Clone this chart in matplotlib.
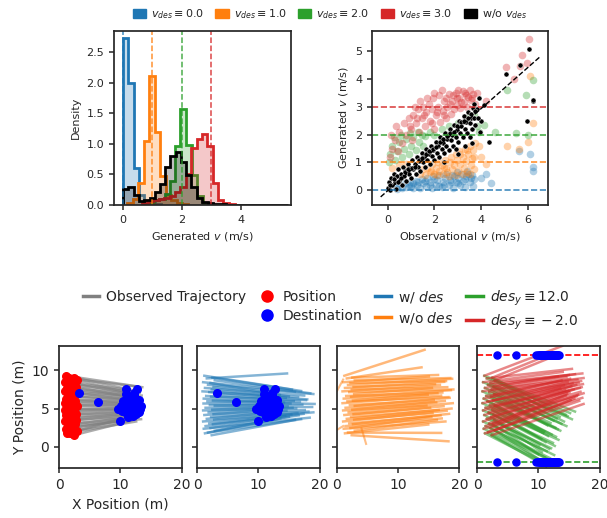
import numpy as np
import matplotlib.pyplot as plt
from matplotlib.lines import Line2D
from matplotlib.patches import Patch

plt.rcParams['font.family'] = ['DejaVu Sans']
plt.rcParams['text.color'] = '.15'
plt.rcParams['axes.labelcolor'] = '.15'
plt.rcParams['axes.edgecolor'] = '.15'
plt.rcParams['xtick.color'] = '.15'
plt.rcParams['ytick.color'] = '.15'

# colours
c_blue, c_orange, c_green, c_red = '#1f77b4', '#ff7f0e', '#2ca02c', '#d62728'

# ---------------- histogram data (density of generated speed)
des_speeds = [0.0, 1.0, 2.0, 3.0]
blue_edges = [0.0, 0.19, 0.37, 0.56, 0.74, 0.93, 1.11, 1.30]
blue_density = [2.73, 2.0, 0.6, 0.17, 0.07, 0.03, 0.01]
orange_edges = [0.16, 0.34, 0.53, 0.71, 0.90, 1.09, 1.28, 1.46, 1.65, 1.84, 2.02, 2.21]
orange_density = [0.04, 0.1, 0.36, 1.04, 2.11, 1.19, 0.48, 0.16, 0.08, 0.04, 0.02]
green_edges = [0.70, 0.88, 1.06, 1.24, 1.42, 1.60, 1.78, 1.96, 2.16, 2.34, 2.52, 2.71, 2.90]
green_density = [0.02, 0.05, 0.08, 0.1, 0.18, 0.4, 0.96, 1.56, 0.98, 0.49, 0.14, 0.04]
red_edges = [0.67, 0.86, 1.04, 1.23, 1.41, 1.60, 1.78, 1.96, 2.15, 2.33, 2.52, 2.70,
             2.87, 3.06, 3.22, 3.41, 3.60, 3.80]
red_density = [0.04, 0.06, 0.08, 0.1, 0.12, 0.15, 0.22, 0.3, 0.5, 0.93, 1.07, 1.16,
               0.96, 0.36, 0.08, 0.03, 0.01]
black_edges = [0.0, 0.19, 0.37, 0.56, 0.74, 0.93, 1.11, 1.28, 1.45, 1.62, 1.80, 1.97,
               2.15, 2.33, 2.52, 2.70, 2.89, 3.07, 3.5, 4.0, 4.5, 5.0, 5.6]
black_density = [0.26, 0.29, 0.16, 0.06, 0.08, 0.12, 0.22, 0.34, 0.62, 0.8, 0.86, 0.7,
                 0.49, 0.29, 0.12, 0.05, 0.03, 0.015, 0.008, 0.005, 0.004, 0.003]

# ---------------- scatter data (observational v, generated v)
blue_obs = [0.35, 0.5, 0.6, 0.75, 0.8, 0.95, 1.0, 1.1, 1.2, 1.25, 1.4, 1.45, 1.5, 1.65, 1.7,
            1.8, 1.9, 1.95, 2.05, 2.1, 2.2, 2.3, 2.35, 2.45, 2.5, 2.6, 2.65, 2.75, 2.8, 2.9,
            2.95, 3.0, 3.1, 3.15, 3.2, 3.3, 3.35, 3.4, 3.5, 3.6, 3.65, 3.7, 4.0, 4.4, 4.2,
            5.6, 6.1, 6.2, 6.2, 0.4, 0.9, 1.3, 1.6, 2.0, 2.4, 2.7, 3.0, 3.3, 3.55, 1.1,
            1.8, 2.2, 2.85, 3.45]
blue_gen = [0.12, 0.2, 0.1, 0.25, 0.12, 0.3, 0.15, 0.08, 0.35, 0.2, 0.1, 0.4, 0.25, 0.15, 0.45,
            0.3, 0.1, 0.5, 0.2, 0.38, 0.55, 0.12, 0.3, 0.45, 0.6, 0.2, 0.38, 0.55, 0.1, 0.3,
            0.65, 0.45, 0.18, 0.6, 0.35, 0.12, 0.5, 0.7, 0.3, 0.55, 0.15, 0.4, 0.45, 0.25, 0.6,
            1.4, 1.3, 0.85, 0.7, 0.05, 0.2, 0.3, 0.35, 0.4, 0.2, 0.3, 0.25, 0.4, 0.45, 0.25,
            0.2, 0.15, 0.5, 0.6]
orange_obs = [0.2, 0.5, 0.8, 1.4, 1.5, 1.6, 1.7, 1.8, 1.9, 2.0, 2.05, 2.15, 2.2, 2.3, 2.35,
              2.45, 2.5, 2.55, 2.65, 2.7, 2.75, 2.85, 2.9, 2.95, 3.0, 3.05, 3.1, 3.2, 3.25,
              3.3, 3.35, 3.4, 3.45, 3.5, 3.55, 3.6, 3.65, 3.7, 3.75, 3.9, 4.0, 4.2, 5.1, 5.6,
              6.0, 6.2, 6.1, 2.6, 2.9, 3.2, 3.5, 3.7, 3.1, 3.4, 2.4, 2.1, 1.85]
orange_gen = [0.8, 0.9, 0.95, 0.6, 0.75, 0.55, 0.8, 0.65, 0.95, 0.6, 0.8, 1.0, 0.7, 0.9, 0.6,
              1.1, 0.8, 0.65, 1.0, 1.2, 0.75, 0.9, 1.3, 1.1, 0.7, 1.4, 0.95, 1.2, 0.8,
              1.5, 1.05, 0.65, 1.3, 1.6, 0.9, 1.15, 1.45, 0.75, 1.7, 1.6, 1.2, 0.95, 1.6, 1.5,
              1.75, 2.4, 4.1, 0.5, 0.55, 0.6, 0.6, 1.2, 1.3, 1.45, 0.85, 0.55, 0.7]
green_obs = [0.05, 0.1, 0.2, 0.25, 0.3, 0.4, 0.5, 0.55, 0.6, 0.7, 0.8, 0.9, 0.95, 1.0, 1.1,
             1.2, 1.3, 1.35, 1.45, 1.5, 1.6, 1.8, 2.0, 2.3, 2.6, 3.0, 3.4, 3.7, 3.8, 3.9,
             4.1, 4.6, 5.1, 5.9, 6.2, 5.5, 6.0]
green_gen = [1.0, 1.3, 1.6, 1.9, 1.1, 1.4, 1.75, 2.0, 1.2, 1.5, 1.85, 1.3, 2.05, 1.6, 1.9,
             1.45, 2.1, 1.75, 2.0, 1.6, 1.95, 2.1, 2.0, 2.2, 2.3, 2.4, 2.6, 2.7, 2.3, 2.1,
             2.35, 2.1, 3.6, 3.4, 3.95, 2.05, 2.0]
red_obs = [0.1, 0.2, 0.15, 0.3, 0.35, 0.45, 0.5, 0.6, 0.7, 0.8, 0.9, 1.0, 1.05,
           1.1, 1.2, 1.3, 1.35, 1.45, 1.5, 1.6, 1.65, 1.75, 1.8, 1.9, 1.95, 2.0, 2.05,
           2.15, 2.2, 2.25, 2.35, 2.4, 2.5, 2.55, 2.6, 2.7, 2.75, 2.85, 2.9, 2.95, 3.05,
           3.1, 3.2, 3.25, 3.35, 3.4, 3.5, 3.55, 3.65, 3.75, 3.8, 4.2, 5.05, 5.4, 5.65,
           5.75, 6.05, 5.95, 1.15, 1.4, 1.7, 2.0, 2.3, 2.5, 2.8, 3.0, 3.3, 3.6, 1.9,
           2.1, 2.4, 2.65, 2.95, 3.15, 3.45, 1.55, 1.25, 0.95]
red_gen = [1.2, 1.5, 2.0, 1.8, 2.3, 1.4, 2.1, 1.7, 2.4, 2.0, 2.6, 2.2, 1.8,
           2.7, 2.4, 2.9, 2.1, 2.6, 3.0, 2.3, 2.8, 3.1, 2.5, 2.9, 3.3, 2.2, 2.7,
           3.0, 3.4, 2.45, 2.85, 3.2, 2.6, 3.0, 3.45, 2.75, 3.2, 2.9, 3.5, 3.05, 3.3,
           2.95, 3.55, 3.15, 3.4, 3.0, 3.6, 3.25, 3.45, 3.1, 3.5, 3.2, 4.4, 4.0, 4.45,
           4.85, 5.4, 4.55, 3.0, 3.2, 3.3, 3.5, 3.6, 3.3, 3.4, 3.6, 3.5, 3.3, 2.4,
           2.8, 2.7, 3.1, 3.3, 3.15, 3.35, 2.7, 2.6, 2.3]
black_obs = [0.0, 0.05, 0.1, 0.15, 0.2, 0.25, 0.3, 0.35, 0.4, 0.45, 0.5, 0.55, 0.6, 0.65,
             0.7, 0.75, 0.8, 0.85, 0.9, 0.95, 1.0, 1.05, 1.1, 1.15, 1.2, 1.25, 1.3, 1.35,
             1.4, 1.45, 1.5, 1.55, 1.6, 1.65, 1.7, 1.75, 1.8, 1.85, 1.9, 1.95, 2.0, 2.05,
             2.1, 2.15, 2.2, 2.25, 2.3, 2.35, 2.4, 2.45, 2.5, 2.55, 2.6, 2.65, 2.7, 2.75,
             2.8, 2.85, 2.9, 2.95, 3.0, 3.05, 3.1, 3.15, 3.2, 3.25, 3.3, 3.35, 3.4, 3.45,
             3.5, 3.55, 3.6, 3.65, 3.7, 3.75, 3.8, 3.9, 4.0, 3.95, 4.35, 5.05, 5.65, 6.05,
             5.95, 6.2, 6.2, 3.0, 2.4, 4.1,
             0.12, 0.28, 0.42, 0.58, 0.72, 0.88, 1.02, 1.18, 1.32, 1.48, 1.62, 1.78, 1.92,
             2.08, 2.22, 2.38, 2.52, 2.68, 2.82, 2.98, 3.12, 3.28, 3.42, 3.58, 3.72, 3.3,
             3.5, 3.6, 2.9, 3.7, 3.85]
black_gen = [0.1, 0.3, 0.0, 0.45, 0.2, 0.6, 0.3, 0.05, 0.5, 0.75, 0.35, 0.6, 0.2, 0.85,
             0.5, 0.7, 0.35, 0.95, 0.6, 0.8, 0.45, 1.1, 0.75, 0.95, 0.6, 1.2, 0.85, 1.05,
             0.7, 1.35, 1.0, 1.2, 0.85, 1.5, 1.1, 1.3, 0.95, 1.6, 1.25, 1.45, 1.1, 1.75,
             1.35, 1.6, 1.2, 1.9, 1.5, 1.7, 1.35, 2.05, 1.6, 1.85, 1.45, 2.2, 1.8, 2.0,
             1.6, 2.35, 1.9, 2.15, 1.75, 2.5, 2.05, 2.3, 1.9, 2.65, 2.2, 2.45, 2.05, 2.8,
             2.4, 2.6, 2.2, 2.95, 2.6, 2.35, 2.9, 3.3, 2.5, 2.1, 1.75, 4.15, 4.5, 5.05,
             2.5, 3.2, 3.25, 1.3, 1.0, 3.05,
             0.2, 0.4, 0.3, 0.45, 0.65, 0.75, 0.8, 0.85, 1.1, 1.15, 1.3, 1.4, 1.5,
             1.55, 1.75, 1.85, 1.95, 2.05, 2.1, 2.3, 2.45, 2.5, 2.6, 2.75, 2.85, 1.6,
             1.9, 1.7, 1.5, 3.1, 2.6]
fit_x = [-0.3, 6.55]
fit_y = [-0.23, 4.81]

# ---------------- trajectory data (m), one entry per agent
start_x = [1.2, 2.5, 1.6, 2.9, 1.0, 2.2, 1.8, 2.7, 1.3, 2.4, 0.9, 2.0, 2.8, 1.5, 2.3, 1.1, 2.6, 1.7,
           0.9, 2.1, 2.9, 1.4, 2.5, 1.0, 1.9, 2.7, 1.2, 2.3, 1.6, 2.8, 1.0, 2.0, 2.6, 1.4, 2.2, 1.1,
           2.9, 1.8, 1.3, 2.4]
start_y = [9.3, 9.05, 8.95, 8.7, 8.45, 8.35, 8.1, 7.85, 7.7, 7.5, 7.25, 7.15, 6.9, 6.65, 6.55, 6.3,
           6.05, 5.95, 5.7, 5.45, 5.35, 5.1, 4.85, 4.75, 4.5, 4.25, 4.15, 3.9, 3.65, 3.55, 3.3, 3.05,
           2.95, 2.7, 2.45, 2.35, 2.1, 1.85, 1.75, 1.5]
dest_x = [11.0, 12.8, 11.4, 10.6, 12.2, 13.4, 11.8, 10.3, 12.5, 11.2, 3.3, 12.0, 13.0, 11.6, 10.5,
          12.7, 11.3, 9.7, 6.3, 12.3, 11.9, 10.8, 13.3, 11.1, 12.1, 10.4, 11.7, 12.6, 11.5, 10.1,
          12.9, 11.0, 12.4, 11.3, 9.9, 12.2, 10.7, 13.1, 11.6, 12.0]
dest_y = [7.5, 7.6, 4.4, 5.0, 6.8, 5.3, 5.9, 4.7, 4.3, 6.5, 7.0, 5.1, 6.1, 4.8, 5.4, 5.6, 3.9, 5.0,
          5.8, 7.1, 6.6, 4.6, 4.9, 5.2, 4.0, 6.0, 5.5, 6.3, 5.8, 5.3, 4.5, 6.9, 5.9, 6.2, 3.3, 5.4,
          5.7, 4.6, 5.0, 6.4]
obs_end_x = [12.8, 11.5, 13.6, 10.8, 12.2, 11.0, 13.2, 10.5, 12.6, 11.8, 13.5, 10.2, 12.0, 11.3,
             13.0, 10.7, 12.4, 11.6, 13.3, 10.4, 12.1, 11.0, 12.7, 9.8, 11.9, 12.5, 10.9, 13.1,
             11.4, 12.9, 10.6, 12.3, 11.7, 13.4, 12.0, 10.3, 11.2, 12.6, 10.0, 11.8]
obs_end_y = [7.9, 7.5, 7.8, 7.2, 7.4, 7.0, 7.1, 6.7, 6.9, 6.5, 6.7, 6.3, 6.5, 6.1, 6.2, 5.8, 6.0,
             5.6, 5.7, 5.3, 5.5, 5.1, 5.2, 4.8, 4.9, 4.5, 4.6, 4.3, 4.4, 4.0, 4.1, 3.8, 3.9, 3.6,
             3.7, 3.4, 3.5, 3.3, 3.6, 3.4]
wdes_end_x = [15.5, 17.0, 14.7, 18.5, 16.0, 13.5, 19.0, 15.0, 17.5, 14.5, 16.5, 18.0, 13.0, 15.8,
              17.8, 14.2, 16.8, 19.2, 15.2, 13.8, 17.2, 18.8, 14.8, 16.2, 15.6, 17.6, 13.4, 18.2,
              14.6, 16.4, 19.0, 15.4, 17.4, 14.4, 16.6, 18.4, 15.0, 17.0, 13.6, 16.0]
wdes_end_y = [7.5, 7.3, 9.6, 7.0, 7.2, 6.8, 6.9, 6.6, 6.7, 6.4, 6.5, 6.2, 6.3, 6.0, 6.1, 5.8, 5.9,
              5.6, 5.7, 5.4, 5.5, 5.2, 5.3, 5.0, 5.1, 4.8, 4.9, 4.6, 4.7, 4.4, 4.5, 4.2, 4.3, 4.0,
              4.1, 3.8, 3.9, 3.6, 3.7, 3.5]
wodes_end_x = [14.3, 16.5, 13.8, 18.5, 15.0, 17.8, 18.8, 16.0, 17.5, 18.0, 16.8, 19.0, 15.5, 17.2,
               18.6, 14.8, 16.4, 18.2, 17.0, 15.8, 18.4, 16.2, 17.6, 14.6, 18.9, 15.2, 17.4, 16.6,
               18.7, 15.6, 17.9, 16.9, 18.3, 17.1, 15.4, 17.7, 16.3, 17.0, 14.9, 18.2]
wodes_end_y = [12.7, 9.4, 10.4, 9.0, 9.2, 8.6, 8.9, 8.2, 8.5, 7.8, 8.1, 7.5, 7.7, 7.1, 7.4, 6.8, 7.0,
               6.5, 6.7, 6.1, 6.4, 5.8, 6.0, 5.4, 5.7, 5.1, 5.3, 4.8, 5.0, 4.4, 4.7, 4.1, 4.3, 3.7,
               3.9, 3.3, 3.5, 1.8, 2.9, 0.7]
wodes_extra_x = [[1.0, 0.0], [1.0, 0.0], [4.0, 4.75]]
wodes_extra_y = [[8.8, 7.3], [2.7, 2.2], [2.4, 0.36]]
up_end_x = [13.9, 12.5, 15.5, 13.0, 14.0, 17.2, 15.0, 16.0, 13.2, 17.4, 14.6, 16.4, 15.2, 17.0,
            13.8, 16.6, 14.8, 17.3, 15.6, 14.2, 16.2, 17.1, 15.4, 13.6, 16.8, 14.4, 15.8, 16.9,
            14.9, 17.4, 15.1, 16.5, 14.7, 16.3, 14.5, 17.2, 15.9, 16.7, 15.3, 17.4]
up_end_y = [13.2, 12.3, 10.2, 12.0, 9.8, 9.6, 9.4, 9.5, 9.2, 9.0, 9.1, 8.8, 8.9, 8.6, 8.7, 8.4, 8.5,
            8.2, 8.3, 8.0, 8.1, 7.8, 7.9, 7.6, 7.7, 7.4, 7.5, 7.2, 7.3, 7.0, 7.1, 6.8, 6.9, 6.6,
            6.7, 6.4, 6.3, 6.0, 6.1, 5.6]
down_end_x = [16.0, 14.5, 15.2, 13.5, 14.8, 15.5, 13.0, 14.2, 12.5, 13.8, 12.0, 14.6, 11.5, 13.2,
              12.8, 11.0, 13.6, 12.2, 10.8, 12.9, 11.6, 13.3, 10.5, 12.4, 11.2, 12.7, 10.2, 11.8,
              12.1, 10.6, 11.4, 12.6, 10.0, 11.9, 11.1, 12.3, 10.4, 11.7, 10.9, 11.3]
down_end_y = [4.6, 4.2, 4.4, 3.9, 4.0, 3.6, 3.7, 3.3, 3.4, 3.0, 3.1, 2.7, 2.8, 2.3, 2.5, 2.0, 2.1,
              1.6, 1.8, 1.3, 1.4, 0.9, 1.0, 0.5, 0.6, 0.1, 0.2, -0.3, -0.2, -0.7, -0.6, -1.1, -1.0,
              -1.5, -1.4, -1.9, -1.8, -2.3, -2.2, -2.6]
des_y_up = 12.0
des_y_down = -2.0

fig = plt.figure(figsize=(6.07, 5.18), dpi=100)
W, H = 607, 518


def add_ax(l, t, r, b):
    return fig.add_axes([l / W, 1 - b / H, (r - l) / W, (b - t) / H])


def style(ax, fs):
    for s in ax.spines.values():
        s.set_linewidth(1.25)
    ax.tick_params(labelsize=fs, width=1.1, length=3.5)


# ---- histogram
ax1 = add_ax(114, 30.5, 290.7, 205)
hists = [(blue_edges, blue_density, c_blue), (orange_edges, orange_density, c_orange),
         (green_edges, green_density, c_green), (red_edges, red_density, c_red),
         (black_edges, black_density, 'black')]
for edges, dens, col in hists:
    ax1.stairs(dens, edges, fill=True, color=col, alpha=0.25, lw=0)
    ax1.stairs(dens, edges, color=col, lw=2)
for v, col in zip(des_speeds, [c_blue, c_orange, c_green, c_red]):
    ax1.axvline(v, color=col, ls='--', lw=1.1, alpha=0.85)
ax1.set_xlim(-0.29, 5.69)
ax1.set_ylim(0, 2.85)
ax1.set_xticks([0, 2, 4])
ax1.set_yticks([0, 0.5, 1.0, 1.5, 2.0, 2.5])
ax1.set_xlabel('Generated $v$ (m/s)', fontsize=8)
ax1.set_ylabel('Density', fontsize=8)
style(ax1, 8)

# ---- scatter
ax2 = add_ax(372, 30.5, 548, 205)
for xs, ys, col in [(blue_obs, blue_gen, c_blue), (orange_obs, orange_gen, c_orange),
                    (green_obs, green_gen, c_green), (red_obs, red_gen, c_red)]:
    ax2.scatter(xs, ys, s=30, color=col, alpha=0.35, lw=0)
ax2.scatter(black_obs, black_gen, s=13, color='black', edgecolor='white', lw=0.3)
for v, col in zip(des_speeds, [c_blue, c_orange, c_green, c_red]):
    ax2.axhline(v, color=col, ls='--', lw=1.2, alpha=0.85)
ax2.plot(fit_x, fit_y, color='black', ls='--', lw=1)
ax2.set_xlim(-0.67, 6.85)
ax2.set_ylim(-0.52, 5.72)
ax2.set_xticks([0, 2, 4, 6])
ax2.set_yticks([0, 1, 2, 3, 4, 5])
ax2.set_xlabel('Observational $v$ (m/s)', fontsize=8)
ax2.set_ylabel('Generated $v$ (m/s)', fontsize=8)
style(ax2, 8)

fig.legend([Patch(color=c) for c in [c_blue, c_orange, c_green, c_red, 'black']],
           [r'$v_{des}\equiv%.1f$' % v for v in des_speeds] + ['w/o $v_{des}$'],
           loc='center', bbox_to_anchor=(330 / W, 1 - 14 / H), ncol=5, frameon=False,
           fontsize=8, handlelength=1.2, handleheight=0.9, handletextpad=0.45,
           columnspacing=1.0)

# ---- trajectory panels
lefts = [59, 197, 337, 477]
axs = [add_ax(l, 346, l + 122.5, 468) for l in lefts]


def draw_lines(ax, ex, ey, col, alpha=0.55):
    for x0, y0, x1, y1 in zip(start_x, start_y, ex, ey):
        ax.plot([x0, x1], [y0, y1], color=col, lw=1.8, alpha=alpha)


draw_lines(axs[0], obs_end_x, obs_end_y, 'gray', 0.65)
axs[0].scatter(start_x, start_y, s=30, color='red', zorder=3)
axs[0].scatter(dest_x, dest_y, s=30, color='blue', zorder=3)

draw_lines(axs[1], wdes_end_x, wdes_end_y, c_blue)
axs[1].scatter(dest_x, dest_y, s=30, color='blue', zorder=3)

draw_lines(axs[2], wodes_end_x, wodes_end_y, c_orange)
for xs, ys in zip(wodes_extra_x, wodes_extra_y):
    axs[2].plot(xs, ys, color=c_orange, lw=1.5, alpha=0.5)

draw_lines(axs[3], down_end_x, down_end_y, c_green)
draw_lines(axs[3], up_end_x, up_end_y, c_red)
axs[3].axhline(des_y_up, color='red', ls='--', lw=1.2)
axs[3].axhline(des_y_down, color=c_green, ls='--', lw=1.2)
axs[3].scatter(dest_x, [des_y_up] * len(dest_x), s=26, color='blue', zorder=3)
axs[3].scatter(dest_x, [des_y_down] * len(dest_x), s=26, color='blue', zorder=3)

for i, ax in enumerate(axs):
    ax.set_xlim(0, 20)
    ax.set_ylim(-2.8, 13.2)
    ax.set_xticks([0, 10, 20])
    ax.set_yticks([0, 5, 10])
    style(ax, 10)
    if i > 0:
        ax.set_yticklabels([])
axs[0].set_xlabel('X Position (m)', fontsize=10)
axs[0].set_ylabel('Y Position (m)', fontsize=10)

blank = Line2D([], [], color='none')
handles = [Line2D([], [], color='gray', lw=2.5), blank,
           Line2D([], [], marker='o', ls='none', color='red', markersize=8),
           Line2D([], [], marker='o', ls='none', color='blue', markersize=8),
           Line2D([], [], color=c_blue, lw=2.5), Line2D([], [], color=c_orange, lw=2.5),
           Line2D([], [], color=c_green, lw=2.5), Line2D([], [], color=c_red, lw=2.5)]
labels = ['Observed Trajectory', '', 'Position', 'Destination', 'w/ $des$', 'w/o $des$',
          r'$des_y\equiv12.0$', r'$des_y\equiv-2.0$']
fig.legend(handles, labels, loc='center', bbox_to_anchor=(330 / W, 1 - 310 / H), ncol=4,
           frameon=False, fontsize=10, handlelength=1.2, handletextpad=0.5,
           columnspacing=0.9, labelspacing=0.35)

fig.savefig('out.png', dpi=100)
